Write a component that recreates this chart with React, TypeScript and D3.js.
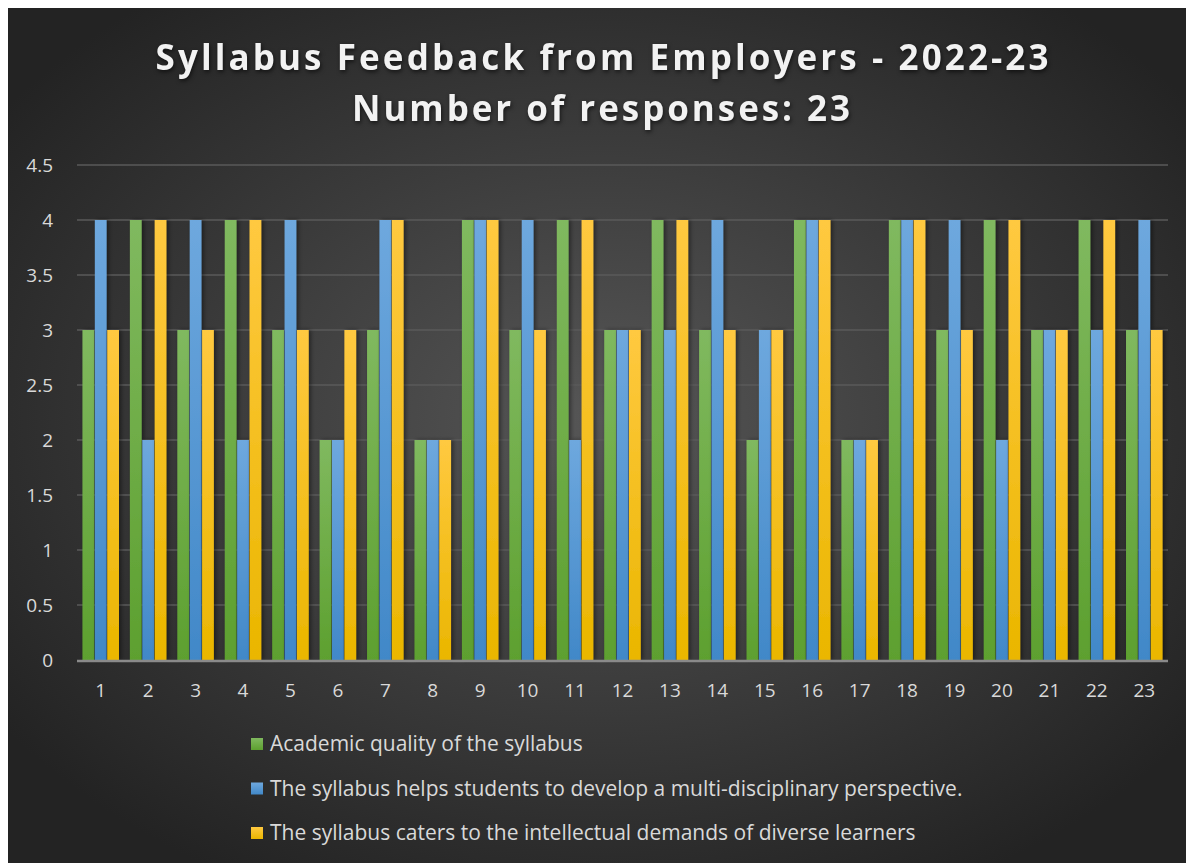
import { useEffect, useRef } from "react";
import * as d3 from "d3";

const responses = d3.range(1, 24).map(String);
const academicQuality = [3, 4, 3, 4, 3, 2, 3, 2, 4, 3, 4, 3, 4, 3, 2, 4, 2, 4, 3, 4, 3, 4, 3];
const multiDisciplinary = [4, 2, 4, 2, 4, 2, 4, 2, 4, 4, 2, 3, 3, 4, 3, 4, 2, 4, 4, 2, 3, 3, 4];
const diverseLearners = [3, 4, 3, 4, 3, 3, 4, 2, 4, 3, 4, 3, 4, 3, 3, 4, 2, 4, 3, 4, 3, 4, 3];
const seriesNames = [
  "Academic quality of the syllabus",
  "The syllabus helps students to develop a multi-disciplinary perspective.",
  "The syllabus caters to the intellectual demands of diverse learners",
];
const yTicks = [0, 0.5, 1, 1.5, 2, 2.5, 3, 3.5, 4, 4.5];

const colors = [
  ["#80b95f", "#5da02f"],
  ["#6ea8de", "#4188c8"],
  ["#ffc940", "#eab600"],
];

export default function App() {
  const ref = useRef<SVGSVGElement>(null);

  useEffect(() => {
    const W = 1186;
    const H = 855;
    const svg = d3.select(ref.current).attr("width", W).attr("height", H);
    svg.selectAll("*").remove();

    const defs = svg.append("defs");
    const bg = defs
      .append("radialGradient")
      .attr("id", "bg")
      .attr("cx", "50%")
      .attr("cy", "48%")
      .attr("r", "62%");
    bg.append("stop").attr("offset", "0%").attr("stop-color", "#565656");
    bg.append("stop").attr("offset", "100%").attr("stop-color", "#232323");

    colors.forEach((c, i) => {
      const g = defs
        .append("linearGradient")
        .attr("id", `bar${i}`)
        .attr("x1", 0)
        .attr("y1", 0)
        .attr("x2", 0)
        .attr("y2", 1);
      g.append("stop").attr("offset", "0%").attr("stop-color", c[0]);
      g.append("stop").attr("offset", "100%").attr("stop-color", c[1]);
    });

    const shadow = defs.append("filter").attr("id", "shadow").attr("x", "-50%").attr("width", "200%");
    shadow
      .append("feDropShadow")
      .attr("dx", 2)
      .attr("dy", 0)
      .attr("stdDeviation", 2)
      .attr("flood-color", "#000")
      .attr("flood-opacity", 0.45);

    svg.append("rect").attr("width", W).attr("height", H).attr("fill", "url(#bg)");

    const margin = { left: 69, right: 26, top: 157, bottom: 203 };
    const x0 = d3
      .scaleBand()
      .domain(responses)
      .range([margin.left, W - margin.right])
      .paddingInner(0.23)
      .paddingOuter(0.115);
    const keys = ["0", "1", "2"];
    const x1 = d3.scaleBand().domain(keys).range([0, x0.bandwidth()]).paddingInner(0.05);
    const y = d3.scaleLinear().domain([0, 4.5]).range([H - margin.bottom, margin.top]);

    // Title
    const title = svg
      .append("text")
      .attr("text-anchor", "middle")
      .attr("fill", "#f2f2f2")
      .style("font-family", "'Open Sans', sans-serif")
      .style("font-weight", 700)
      .style("font-size", "35px")
      .style("filter", "drop-shadow(1px 2px 2px rgba(0,0,0,0.6))");
    title
      .append("tspan")
      .attr("x", 594)
      .attr("y", 62)
      .attr("textLength", 893)
      .attr("lengthAdjust", "spacing")
      .text("Syllabus Feedback from Employers - 2022-23");
    title
      .append("tspan")
      .attr("x", 593)
      .attr("y", 113)
      .attr("textLength", 498)
      .attr("lengthAdjust", "spacing")
      .text("Number of responses: 23");

    // Gridlines
    svg
      .append("g")
      .selectAll("line")
      .data(yTicks.filter((t) => t > 0))
      .join("line")
      .attr("x1", margin.left)
      .attr("x2", W - margin.right)
      .attr("y1", (d) => y(d))
      .attr("y2", (d) => y(d))
      .attr("stroke", "#5a5a5a")
      .attr("stroke-width", 1.5);

    // Y labels
    svg
      .append("g")
      .selectAll("text")
      .data(yTicks)
      .join("text")
      .attr("x", 45)
      .attr("y", (d) => y(d))
      .attr("dy", "0.35em")
      .attr("text-anchor", "end")
      .attr("fill", "#d9d9d9")
      .style("font-family", "'Open Sans', sans-serif")
      .style("font-size", "19px")
      .text((d) => String(d));

    // Bars
    const data = [academicQuality, multiDisciplinary, diverseLearners];
    const groups = svg
      .append("g")
      .selectAll("g")
      .data(responses)
      .join("g")
      .attr("transform", (d) => `translate(${x0(d)},0)`);
    groups
      .selectAll("rect")
      .data((d, i) => keys.map((k, s) => ({ k, s, v: data[s][i] })))
      .join("rect")
      .attr("x", (d) => x1(d.k)!)
      .attr("width", x1.bandwidth())
      .attr("y", (d) => y(d.v))
      .attr("height", (d) => y(0) - y(d.v))
      .attr("fill", (d) => `url(#bar${d.s})`)
      .attr("filter", "url(#shadow)");

    // X axis line
    svg
      .append("line")
      .attr("x1", margin.left)
      .attr("x2", W - margin.right)
      .attr("y1", y(0) + 1)
      .attr("y2", y(0) + 1)
      .attr("stroke", "#8a8a8a")
      .attr("stroke-width", 2.5);

    // X labels
    svg
      .append("g")
      .selectAll("text")
      .data(responses)
      .join("text")
      .attr("x", (d) => x0(d)! + x0.bandwidth() / 2)
      .attr("y", 682)
      .attr("dy", "0.35em")
      .attr("text-anchor", "middle")
      .attr("fill", "#d9d9d9")
      .style("font-family", "'Open Sans', sans-serif")
      .style("font-size", "19px")
      .text((d) => d);

    // Legend
    const legend = svg
      .append("g")
      .selectAll("g")
      .data(seriesNames)
      .join("g")
      .attr("transform", (d, i) => `translate(243,${736 + i * 44.5})`);
    legend
      .append("rect")
      .attr("x", 0)
      .attr("y", -6)
      .attr("width", 12)
      .attr("height", 12)
      .attr("fill", (d, i) => `url(#bar${i})`);
    legend
      .append("text")
      .attr("x", 19)
      .attr("y", 0)
      .attr("dy", "0.35em")
      .attr("fill", "#d9d9d9")
      .style("font-family", "'Open Sans', sans-serif")
      .style("font-size", "21px")
      .text((d) => d);
  }, []);

  return <svg ref={ref} style={{ display: "block" }}></svg>;
}
